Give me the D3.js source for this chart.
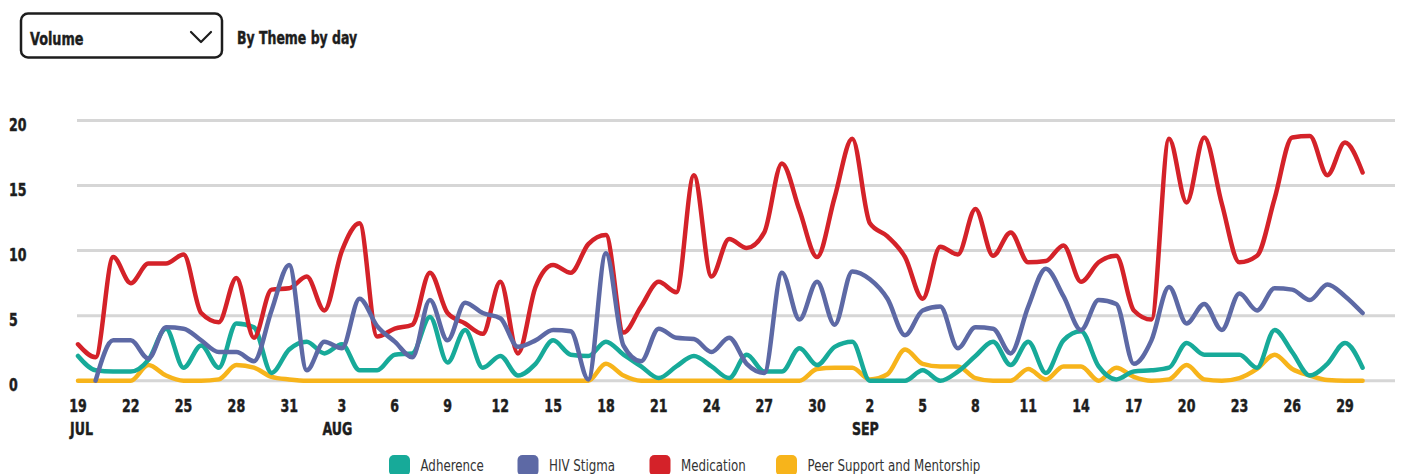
<!DOCTYPE html>
<html>
<head>
<meta charset="utf-8">
<script src="https://cdn.jsdelivr.net/npm/d3@7"></script>
<style>
  html, body { margin: 0; padding: 0; background: #ffffff; }
  svg { display: block; }
  .cond { font-family: "DejaVu Sans Condensed", "DejaVu Sans", Roboto, sans-serif; }
</style>
</head>
<body>
<svg id="chart" width="1402" height="474"></svg>
<script>
// ---------- DATA ----------
const startDate = "2023-07-19";
const endDate = "2023-09-30";
const seriesNames = ["Adherence", "HIV Stigma", "Medication", "Peer Support and Mentorship"];
const seriesColors = ["#17aa99", "#5d69a5", "#d42229", "#f7b41b"];

const adherence = [1.9,0.8,0.7,0.7,1.6,4.0,1.0,2.7,1.0,4.4,4.1,0.6,2.4,3.0,2.1,2.8,0.8,0.8,2.0,2.1,
  4.9,1.4,3.9,1.0,1.9,0.4,1.3,3.1,2.0,1.9,3.0,2.0,1.1,0.2,1.1,1.9,1.1,0.2,2.0,0.7,
  0.7,2.5,1.2,2.6,3.0,0,0,0,0.8,0,0.7,1.9,3.0,1.2,3.0,0.6,3.1,3.8,1.1,0.1,
  0.7,0.8,1.0,2.9,2.0,2.0,2.0,1.0,3.9,2.2,0.4,1.3,2.9,1.0];
const hivStigma = [null,0,3.1,3.1,1.7,4.1,4.0,3.1,2.2,2.2,1.5,5.4,8.9,0.8,3.0,2.5,6.3,4.2,3.0,1.8,
  6.2,3.1,6.0,5.2,4.8,2.6,3.1,3.9,3.8,0.1,9.8,2.7,1.5,4.0,3.3,3.2,2.2,3.3,1.3,0.6,
  8.3,4.7,7.6,4.3,8.4,7.8,6.3,3.5,5.4,5.7,2.5,4.1,4.0,2.1,5.7,8.6,6.5,3.9,6.2,5.9,
  1.3,3.1,7.2,4.4,5.9,3.9,6.7,5.4,7.1,7.0,6.2,7.4,6.5,5.2];
const medication = [2.8,1.8,9.5,7.5,9.0,9.0,9.7,5.2,4.5,7.9,3.3,7.0,7.1,8.0,5.4,10.0,12.1,3.4,4.0,4.3,
  8.3,5.2,4.4,3.6,7.6,2.1,7.2,8.9,8.3,10.5,11.2,3.7,5.7,7.6,6.8,15.8,8.0,10.9,10.2,11.4,
  16.7,13.1,9.5,14.1,18.6,12.1,11.1,9.5,6.3,10.3,9.7,13.2,9.6,11.4,9.1,9.2,10.4,7.6,9.1,9.6,
  5.4,4.7,18.6,13.7,18.7,13.6,9.1,9.6,14.0,18.7,18.8,15.8,18.3,16.0];
const peerSupport = [0,0,0,0,1.2,0.4,0,0,0.1,1.2,1.0,0.3,0.1,0,0,0,0,0,0,0,
  0,0,0,0,0,0,0,0,0,0,1.3,0.4,0,0,0,0,0,0,0,0,
  0,0,0.9,1.0,1.0,0.1,0.5,2.4,1.3,1.1,1.1,0.2,0,0,0.9,0.1,1.1,1.1,0,1.0,
  0.3,0,0.1,1.2,0.1,0,0.2,0.9,2.0,0.9,0.4,0.05,0,0];

const yTicks = [0, 5, 10, 15, 20];
const dropdownLabel = "Volume";
const subtitle = "By Theme by day";
const monthLabels = ["JUL", "AUG", "SEP"];

// ---------- BUILD ----------
const parse = d3.timeParse("%Y-%m-%d");
const days = d3.timeDay.range(parse(startDate), d3.timeDay.offset(parse(endDate), 1));
const seriesValues = [adherence, hivStigma, medication, peerSupport];

const svg = d3.select("#chart");
const ink = "#1d1d1d";

const x = d3.scaleTime().domain([days[0], days[72]]).range([78, 1345]);
const y = d3.scaleLinear().domain([0, 20]).range([380.7, 120.5]);

// condensed-looking text: horizontally compressed real text
function condText(parent, px, py, txt, size, sx, anchor, weight, fill) {
  const w = weight || 700;
  const t = parent.append("text")
    .attr("class", "cond")
    .attr("transform", `translate(${px},${py}) scale(${sx},1)`)
    .attr("text-anchor", anchor || "start")
    .attr("font-size", size)
    .attr("font-weight", w)
    .attr("fill", fill || ink)
    .text(txt);
  if (w >= 700) t.attr("stroke", fill || ink).attr("stroke-width", 0.45);
  return t;
}

// header: dropdown + subtitle
svg.append("rect")
  .attr("x", 21).attr("y", 13.5).attr("width", 201).attr("height", 44)
  .attr("rx", 7).attr("fill", "#fff").attr("stroke", ink).attr("stroke-width", 2.5);
condText(svg, 30, 45, dropdownLabel, 18.5, 0.77);
svg.append("path")
  .attr("d", "M191,32 L201,42 L211,32")
  .attr("fill", "none").attr("stroke", ink).attr("stroke-width", 2.2)
  .attr("stroke-linecap", "round").attr("stroke-linejoin", "round");
condText(svg, 237, 43.5, subtitle, 18.5, 0.75);

// grid + y labels
const grid = svg.append("g");
grid.selectAll("line").data(yTicks).join("line")
  .attr("x1", 77).attr("x2", 1395)
  .attr("y1", d => y(d)).attr("y2", d => y(d))
  .attr("stroke", "#d6d6d6").attr("stroke-width", 3);
yTicks.forEach(t => condText(grid, 9, y(t) + 10.5, String(t), 17.5, 0.8));

// x axis labels
const tickDays = days.filter((d, i) => i % 3 === 0 && i <= 72);
const xa = svg.append("g");
tickDays.forEach(d => condText(xa, x(d), 412, d3.timeFormat("%-d")(d), 17.5, 0.8, "middle"));
let mi = 0;
tickDays.forEach((d, i) => {
  if (i === 0 || d.getMonth() !== tickDays[i - 1].getMonth()) {
    if (i === 0) condText(xa, x(d) - 8, 435, monthLabels[mi], 17.5, 0.8, "start");
    else condText(xa, x(d) - 4.5, 435, monthLabels[mi], 17.5, 0.8, "middle");
    mi++;
  }
});

// lines
const line = d3.line()
  .defined(d => d.v !== null)
  .x(d => x(d.date)).y(d => y(d.v))
  .curve(d3.curveMonotoneX);

const lineOrder = [3, 0, 2, 1];
svg.append("g").selectAll("path").data(lineOrder).join("path")
  .attr("d", si => line(seriesValues[si].map((v, i) => ({ date: days[i], v }))))
  .attr("fill", "none")
  .attr("stroke", si => seriesColors[si])
  .attr("stroke-width", 4.5)
  .attr("stroke-linejoin", "round").attr("stroke-linecap", "round");

// legend
const legendX = [389, 517.5, 649.5, 776];
const lg = svg.append("g");
seriesNames.forEach((name, i) => {
  lg.append("rect")
    .attr("x", legendX[i]).attr("y", 455).attr("width", 21).attr("height", 21)
    .attr("rx", 5).attr("fill", seriesColors[i]);
  condText(lg, legendX[i] + 31.5, 470.5, name, 15.5, 0.85, "start", 400, "#333");
});
</script>
</body>
</html>
